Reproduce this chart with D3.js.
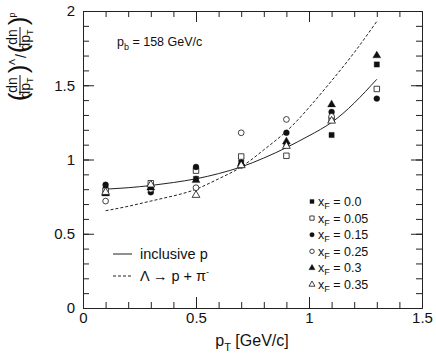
<!DOCTYPE html>
<html>
<head>
<meta charset="utf-8">
<script src="https://cdn.jsdelivr.net/npm/d3@7/dist/d3.min.js"></script>
<style>
  body { margin: 0; background: #fff; }
  svg { font-family: "Liberation Sans", Arial, Helvetica, sans-serif; }
  .axis path, .axis line { stroke: #222; stroke-width: 1; }
  .axis text { font-size: 15px; fill: #111; }
</style>
</head>
<body>
<script>
// pT bin centres (GeV/c)
var ptBins = [0.1, 0.3, 0.5, 0.7, 0.9, 1.1, 1.3];

// Lambda / p ratio per xF bin (null = no point)
var xf000 = [0.80, 0.82, 0.87, 0.98, 1.10, 1.165, 1.64];
var xf005 = [0.79, 0.84, 0.925, 1.02, 1.025, 1.27, 1.475];
var xf015 = [0.83, 0.78, 0.95, 0.96, 1.18, 1.32, 1.41];
var xf025 = [0.72, 0.80, 0.81, 1.18, 1.27, 1.29, null];
var xf030 = [0.77, 0.81, 0.86, 0.97, 1.12, 1.37, 1.70];
var xf035 = [0.78, 0.83, 0.76, 0.96, 1.09, 1.26, null];

var seriesNames = ["0.0", "0.05", "0.15", "0.25", "0.3", "0.35"];

// curves
var curvePt = [0.1, 0.2, 0.3, 0.4, 0.5, 0.6, 0.7, 0.8, 0.9, 1.0, 1.1, 1.2, 1.3];
var inclusiveP = [0.80, 0.81, 0.825, 0.845, 0.87, 0.905, 0.95, 1.01, 1.08, 1.16, 1.25, 1.38, 1.54];
var lambdaDecay = [0.655, 0.685, 0.72, 0.755, 0.80, 0.87, 0.95, 1.065, 1.19, 1.35, 1.53, 1.72, 1.93];

var xTicks = [0, 0.5, 1, 1.5];
var yTicks = [0, 0.5, 1, 1.5, 2];

(function () {
    var width = 436, height = 358;
    var mLeft = 83, mRight = 422, mTop = 11, mBottom = 308;

    var svg = d3.select("body").append("svg")
        .attr("width", width)
        .attr("height", height);

    var x = d3.scaleLinear().domain([0, 1.5]).range([mLeft, mRight]);
    var y = d3.scaleLinear().domain([0, 2]).range([mBottom, mTop]);

    var fmt = function (d) { return String(d); };
    var xMinor = d3.range(0, 1.5001, 0.1).map(function (d) { return +d.toFixed(2); });
    var yMinor = d3.range(0, 2.0001, 0.1).map(function (d) { return +d.toFixed(2); });

    function addAxis(axis, tx, ty) {
        svg.append("g").attr("class", "axis")
            .attr("transform", "translate(" + tx + "," + ty + ")")
            .call(axis);
    }

    // bottom
    addAxis(d3.axisBottom(x).tickValues(xTicks).tickFormat(fmt).tickSize(-11).tickPadding(4).tickSizeOuter(0), 0, mBottom);
    addAxis(d3.axisBottom(x).tickValues(xMinor).tickFormat("").tickSize(-6).tickSizeOuter(0), 0, mBottom);
    // top
    addAxis(d3.axisTop(x).tickValues(xTicks).tickFormat("").tickSize(-11).tickSizeOuter(0), 0, mTop);
    addAxis(d3.axisTop(x).tickValues(xMinor).tickFormat("").tickSize(-6).tickSizeOuter(0), 0, mTop);
    // left
    addAxis(d3.axisLeft(y).tickValues(yTicks).tickFormat(fmt).tickSize(-11).tickPadding(8).tickSizeOuter(0), mLeft, 0);
    addAxis(d3.axisLeft(y).tickValues(yMinor).tickFormat("").tickSize(-6).tickSizeOuter(0), mLeft, 0);
    // right
    addAxis(d3.axisRight(y).tickValues(yTicks).tickFormat("").tickSize(-11).tickSizeOuter(0), mRight, 0);
    addAxis(d3.axisRight(y).tickValues(yMinor).tickFormat("").tickSize(-6).tickSizeOuter(0), mRight, 0);

    // curves
    var line = d3.line()
        .x(function (d) { return x(d[0]); })
        .y(function (d) { return y(d[1]); })
        .curve(d3.curveNatural);

    svg.append("path")
        .datum(d3.zip(curvePt, inclusiveP))
        .attr("d", line)
        .attr("fill", "none")
        .attr("stroke", "#222")
        .attr("stroke-width", 1);

    svg.append("path")
        .datum(d3.zip(curvePt, lambdaDecay))
        .attr("d", line)
        .attr("fill", "none")
        .attr("stroke", "#222")
        .attr("stroke-width", 1)
        .attr("stroke-dasharray", "3,2");

    // marker styles
    var styles = [
        { type: d3.symbolSquare, size: 28, filled: true },
        { type: d3.symbolSquare, size: 30, filled: false },
        { type: d3.symbolCircle, size: 28, filled: true },
        { type: d3.symbolCircle, size: 26, filled: false },
        { type: d3.symbolTriangle, size: 28, filled: true },
        { type: d3.symbolTriangle, size: 26, filled: false }
    ];
    var allSeries = [xf000, xf005, xf015, xf025, xf030, xf035];

    function drawMarker(g, s, scale) {
        g.append("path")
            .attr("d", d3.symbol().type(s.type).size(s.size * (scale || 1))())
            .attr("fill", s.filled ? "#111" : "#fff")
            .attr("stroke", "#111")
            .attr("stroke-width", s.filled ? 0.3 : 0.8);
    }

    allSeries.forEach(function (vals, si) {
        vals.forEach(function (v, i) {
            if (v === null) return;
            var g = svg.append("g")
                .attr("transform", "translate(" + x(ptBins[i]) + "," + y(v) + ")");
            drawMarker(g, styles[si]);
        });
    });

    // right legend
    seriesNames.forEach(function (name, i) {
        var ly = 201.5 + i * 16.6;
        var g = svg.append("g").attr("transform", "translate(312," + ly + ")");
        drawMarker(g, styles[i], 0.6);
        var t = svg.append("text")
            .attr("x", 318)
            .attr("y", ly + 4.5)
            .style("font-size", "12.5px")
            .attr("fill", "#111");
        t.append("tspan").text("x");
        t.append("tspan").attr("dy", 3).style("font-size", "9px").text("F");
        t.append("tspan").attr("dy", -3).text(" = " + name);
    });

    // left legend
    svg.append("line")
        .attr("x1", 113).attr("x2", 132)
        .attr("y1", 254).attr("y2", 254)
        .attr("stroke", "#222");
    svg.append("text")
        .attr("x", 140).attr("y", 259)
        .style("font-size", "14.5px")
        .attr("fill", "#111")
        .text("inclusive p");

    svg.append("line")
        .attr("x1", 113).attr("x2", 132)
        .attr("y1", 276).attr("y2", 276)
        .attr("stroke", "#222")
        .attr("stroke-dasharray", "3,2");
    var lt = svg.append("text")
        .attr("x", 140).attr("y", 281)
        .style("font-size", "14.5px")
        .attr("fill", "#111");
    lt.append("tspan").text("\u039B \u2192 p + \u03C0");
    lt.append("tspan").attr("dy", -6).style("font-size", "9px").text("-");

    // beam momentum
    var pb = svg.append("text")
        .attr("x", 117).attr("y", 46)
        .style("font-size", "12.5px")
        .attr("fill", "#111");
    pb.append("tspan").text("p");
    pb.append("tspan").attr("dy", 4).style("font-size", "9px").text("b");
    pb.append("tspan").attr("dy", -4).text(" = 158 GeV/c");

    // x title
    var xt = svg.append("text")
        .attr("x", 252).attr("y", 346)
        .attr("text-anchor", "middle")
        .style("font-size", "16px")
        .attr("fill", "#111");
    xt.append("tspan").text("p");
    xt.append("tspan").attr("dy", 5).style("font-size", "11px").text("T");
    xt.append("tspan").attr("dy", -5).text(" [GeV/c]");

    // y title: (dn/dpT)^Lambda / (dn/dpT)^p, rotated
    var yt = svg.append("g")
        .attr("transform", "translate(18,100) rotate(-90)")
        .attr("fill", "#111");

    function paren(g, lx, ch) {
        g.append("text").attr("x", lx).attr("y", 8.5)
            .attr("text-anchor", "middle")
            .style("font-size", "26px")
            .text(ch);
    }
    function frac(g, cx) {
        g.append("text").attr("x", cx).attr("y", -1)
            .attr("text-anchor", "middle")
            .style("font-size", "14px")
            .text("dn");
        g.append("line")
            .attr("x1", cx - 10).attr("x2", cx + 10)
            .attr("y1", 2).attr("y2", 2)
            .attr("stroke", "#111").attr("stroke-width", 1);
        var d = g.append("text").attr("x", cx - 3).attr("y", 12)
            .attr("text-anchor", "middle")
            .style("font-size", "14px");
        d.append("tspan").text("dp");
        d.append("tspan").attr("dy", 3).style("font-size", "9px").text("T");
    }
    paren(yt, 3, "(");
    frac(yt, 15);
    paren(yt, 31, ")");
    yt.append("text").attr("x", 38).attr("y", -3).style("font-size", "9px")
        .attr("text-anchor", "middle").text("\u039B");
    yt.append("text").attr("x", 44).attr("y", 8).style("font-size", "14px")
        .attr("text-anchor", "middle").text("/");
    paren(yt, 51, "(");
    frac(yt, 63);
    paren(yt, 79, ")");
    yt.append("text").attr("x", 85).attr("y", -3).style("font-size", "9px")
        .attr("text-anchor", "middle").text("p");
})();
</script>
</body>
</html>
